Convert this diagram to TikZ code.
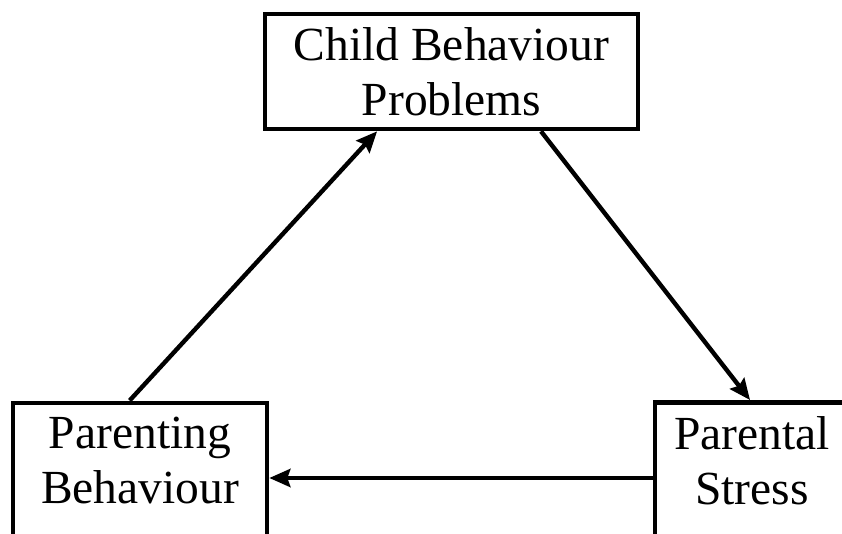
\documentclass[tikz,border=0pt]{standalone}
\usepackage{fontspec}
\setmainfont{Liberation Serif}
\usetikzlibrary{calc,arrows.meta}
\tikzset{
  box/.style={draw=black, line width=4.6pt, rectangle, align=center, fill=white,
    font=\fontsize{47.5}{55}\selectfont},
  cutbox/.style={box, anchor=north, inner ysep=14.6pt, text depth=150pt},
  conn/.style={draw=black, line width=4.4pt, -{Stealth[length=21pt,width=18pt,inset=3pt]}}
}
\begin{document}
\begin{tikzpicture}[x=1pt,y=1pt]
\useasboundingbox (0,0) rectangle (842,533);
\clip (0,0) rectangle (842,533);
\fill[white] (0,0) rectangle (842,533);
\node[box, minimum width=373pt, minimum height=115pt, inner sep=0pt] (cbp) at (451.5,461.5) {Child Behaviour\\Problems};
\node[cutbox, minimum width=254pt] (pb) at (140,132.5) {Parenting\\Behaviour};
\node[cutbox, minimum width=194pt] (ps) at (752,133) {Parental\\Stress};
\coordinate (h) at (0,55);
\draw[conn] ($(pb.north west)!0.46!(pb.north east)$) -- ($(cbp.south west)!0.303!(cbp.south east)$);
\draw[conn] ($(cbp.south west)!0.737!(cbp.south east)$) -- ($(ps.north west)!0.49!(ps.north east)$);
\draw[conn] (ps.north west |- h) -- (pb.north east |- h);
\end{tikzpicture}
\end{document}
